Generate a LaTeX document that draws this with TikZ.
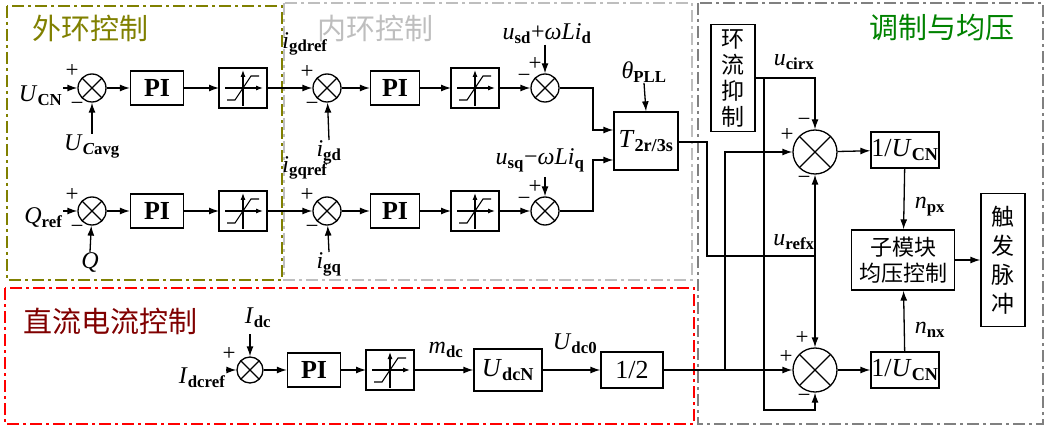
\documentclass[tikz,border=0pt]{standalone}
\usepackage{fontspec}
\setmainfont{Liberation Serif}
\newfontfamily\cjk{Noto Sans CJK SC}
\usetikzlibrary{arrows.meta,calc}
\newcommand\ls[2]{\textit{#1}\textsubscript{\bfseries #2}}
\begin{document}
\begin{tikzpicture}[x=1pt,y=-1pt,line width=1.3pt,
  >={Latex[length=10pt,width=7pt]},
  txt/.style={font=\fontsize{24}{26}\selectfont,inner sep=0pt},
  sg/.style={font=\fontsize{23}{23}\selectfont,inner sep=0pt},
  blk/.style={draw,font=\fontsize{26}{28}\selectfont,inner sep=0pt},
  pib/.style={blk,font=\bfseries\fontsize{26}{28}\selectfont},
  sum/.style={draw,circle,inner sep=0,minimum size=#1,path picture={
    \draw (path picture bounding box.north west)--(path picture bounding box.south east)
          (path picture bounding box.north east)--(path picture bounding box.south west);}},
  sum/.default=28pt,
  frame/.style={line width=1.5pt,dash pattern=on 12pt off 4pt on 3pt off 4pt},
  ttl/.style={font=\cjk\fontsize{29}{31}\selectfont,inner sep=0pt},
  lim/.pic={\draw (-24,-20) rectangle (24,20);
    \draw[-{Latex[length=7pt,width=5pt]},line width=1.1pt] (-18,0)--(20,0);
    \draw[-{Latex[length=7pt,width=5pt]},line width=1.1pt] (0,18)--(0,-18);
    \draw[line width=1.1pt] (-16,12)--(-8,12)--(8,-12)--(16,-12);}]
\useasboundingbox (0,0) rectangle (1048,430);
% frames
\draw[frame,draw={rgb,255:red,128;green,128;blue,0}] (7,6) rectangle (282,280);
\draw[frame,draw={rgb,255:red,190;green,190;blue,190}] (284,3) rectangle (692,280);
\draw[frame,draw=red] (5,288) rectangle (694,424);
\draw[frame,draw={rgb,255:red,128;green,128;blue,128}] (698,3) rectangle (1043,424);
\node[ttl,text={rgb,255:red,128;green,128;blue,0}] (t1) at (90,28) {外环控制};
\node[ttl,text={rgb,255:red,190;green,190;blue,190}] (t2) at (375,28) {内环控制};
\node[ttl,text={rgb,255:red,0;green,130;blue,0}] (t3) at (942,28) {调制与均压};
\node[ttl,text={rgb,255:red,128;green,0;blue,0}] (t4) at (110,321) {直流电流控制};
% ---- rows
\foreach \r/\y in {a/88,b/211}{
  \node[sum] (s1\r) at (92,\y) {};
  \node[pib,minimum width=53pt,minimum height=34pt] (p1\r) at (157,\y) {PI};
  \pic at (243,\y) {lim}; \coordinate (l1\r i) at (219,\y); \coordinate (l1\r o) at (267,\y);
  \node[sum] (s2\r) at (327,\y) {};
  \node[pib,minimum width=49pt,minimum height=34pt] (p2\r) at (395,\y) {PI};
  \pic at (475,\y) {lim}; \coordinate (l2\r i) at (451,\y); \coordinate (l2\r o) at (499,\y);
  \node[sum] (s3\r) at (545,\y) {};
  \draw[->] (s1\r) -- (p1\r); \draw[->] (p1\r) -- (l1\r i);
  \draw[->] (l1\r o) -- (s2\r); \draw[->] (s2\r) -- (p2\r);
  \draw[->] (p2\r) -- (l2\r i); \draw[->] (l2\r o) -- (s3\r);
}
\node[txt,anchor=east] (ucn) at (63,96) {\ls{U}{CN}};
\draw[->] (63,88) coordinate (ucnc) -- (s1a);
\node[sg] (pa1) at (72,71) {+}; \node[sg] (ma1) at (77,106) {−};
\node[txt,anchor=north] (ucavg) at (92,134) {\ls{U}{\textit{C}avg}};
\draw[->] (ucavg.north) -- (s1a);
\node[txt,anchor=east] (qref) at (63,218) {\ls{Q}{ref}};
\draw[->] (63,211) -- (s1b);
\node[sg] (pb1) at (72,195) {+}; \node[sg] (mb1) at (77,229) {−};
\node[txt,anchor=north] (qq) at (90,252) {\textit{Q}};
\draw[->] (qq.north) -- (s1b);
\node[txt] (igdref) at (305,44) {\ls{i}{gdref}};
\node[txt] (igqref) at (305,168) {\ls{i}{gqref}};
\node[sg] (pa2) at (307,72) {+}; \node[sg] (ma2) at (312,106) {−};
\node[sg] (pb2) at (307,195) {+}; \node[sg] (mb2) at (312,229) {−};
\node[txt,anchor=north] (igd) at (329,140) {\ls{i}{gd}};
\draw[->] (igd.north) -- (s2a);
\node[txt,anchor=north] (igq) at (329,252) {\ls{i}{gq}};
\draw[->] (igq.north) -- (s2b);
\node[txt] (usd) at (547,34) {\ls{u}{sd}+\textit{ωLi}\textsubscript{\bfseries d}};
\draw[->] (usd.south -| s3a) -- (s3a);
\node[sg] (pa3) at (535,64) {+}; \node[sg] (ma3) at (524,78) {−};
\node[txt] (usq) at (540,160) {\ls{u}{sq}−\textit{ωLi}\textsubscript{\bfseries q}};
\draw[->] (s3b |- 0,177) -- (s3b);
\node[sg] (pb3) at (535,187) {+}; \node[sg] (mb3) at (524,201) {−};
\node[blk,minimum width=64pt,minimum height=58pt] (T) at (646,141) {\ls{T}{2r/3s}};
\node[txt] (th) at (644,72) {\textit{θ}\textsubscript{\bfseries PLL}};
\draw[->] (th.south) -- (T.north);
\draw[->] (s3a.east) -- (593,88) |- (T.west |- 0,130);
\draw[->] (s3b.east) -- (593,211) |- (T.west |- 0,160);
% ---- DC row
\node[sum=26pt] (sd) at (250,370) {};
\node[txt,anchor=east] (idref) at (226,378) {\ls{I}{dcref}};
\draw[->] (226,370) -- (sd);
\node[sg] (pd) at (229,354) {+};
\node[txt] (idc) at (258,318) {\ls{I}{dc}};
\draw[->] (sd |- 0,334) -- (sd);
\node[pib,minimum width=53pt,minimum height=34pt] (pd1) at (314,370) {PI};
\pic at (390,370) {lim}; \coordinate (ldi) at (366,370); \coordinate (ldo) at (414,370);
\node[blk,minimum width=68pt,minimum height=42pt] (udcn) at (508,370) {\ls{U}{dcN}};
\node[blk,minimum width=62pt,minimum height=36pt] (half) at (632,370) {1/2};
\draw[->] (sd) -- (pd1); \draw[->] (pd1) -- (ldi);
\draw[->] (ldo) -- (udcn);
\node[txt] (mdc) at (446,350) {\ls{m}{dc}};
\draw[->] (udcn) -- (half);
\node[txt] (udc0) at (575,344) {\ls{U}{dc0}};
% ---- right part
\node[blk,minimum width=44pt,minimum height=107pt,font=\cjk\fontsize{23}{26}\selectfont,align=center] (cir) at (733,78) {环\\流\\抑\\制};
\node[sum=44pt] (su) at (815,152) {};
\node[sum=44pt] (sl) at (815,370) {};
\node[blk,minimum width=68pt,minimum height=36pt] (ku) at (905,150) {1/\ls{U}{CN}};
\node[blk,minimum width=68pt,minimum height=36pt] (kl) at (905,370) {1/\ls{U}{CN}};
\node[blk,minimum width=103pt,minimum height=60pt,font=\cjk\fontsize{22}{26}\selectfont,align=center] (sm) at (903,260) {子模块\\均压控制};
\node[blk,minimum width=44pt,minimum height=133pt,font=\cjk\fontsize{23}{29}\selectfont,align=center] (pulse) at (1003,260) {触\\发\\脉\\冲};
\draw[->] (cir.east |- 0,78) -| (su.north);
\draw[->] (764,78) -- (764,410) -| (sl.south);
\draw[->] (T.east |- 0,142) -- (707,142) |- (815,256) coordinate (rf) -- (su.south);
\draw[->] (rf) -- (sl.north);
\draw[->] (half.east) -- (725,370) |- (su.west);
\draw[->] (725,370) -- (sl.west);
\draw[->] (su) -- (ku); \draw[->] (sl) -- (kl);
\draw[->] (ku) -- (sm); \draw[->] (kl) -- (sm);
\draw[->] (sm) -- (pulse);
\node[txt] (ucirx) at (794,62) {\ls{u}{cirx}};
\node[txt] (urefx) at (794,242) {\ls{u}{refx}};
\node[txt] (npx) at (930,207) {\ls{n}{px}};
\node[txt] (nnx) at (930,330) {\ls{n}{nx}};
\node[sg] (pu1) at (787,135) {+}; \node[sg] (mu1) at (804,122) {−}; \node[sg] (mu2) at (804,180) {−};
\node[sg] (pl1) at (802,338) {+}; \node[sg] (pl2) at (786,357) {+}; \node[sg] (ml1) at (804,398) {−};
\end{tikzpicture}
\end{document}
